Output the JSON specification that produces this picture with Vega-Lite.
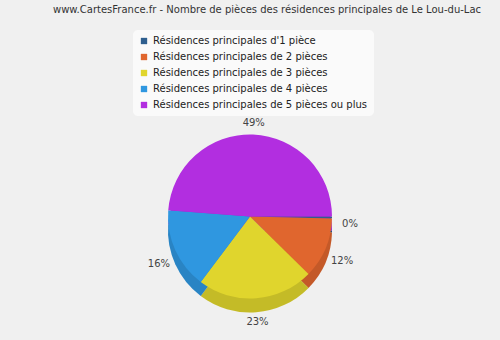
{
  "$schema": "https://vega.github.io/schema/vega-lite/v6.json",
  "width": 500,
  "height": 340,
  "autosize": {"type": "fit", "contains": "padding"},
  "padding": {"top": 5, "left": 0, "right": 0, "bottom": 0},
  "background": "#f0f0f0",
  "title": {
    "text": "www.CartesFrance.fr - Nombre de pièces des résidences principales de Le Lou-du-Lac",
    "font": "DejaVu Sans",
    "fontSize": 10,
    "fontWeight": "normal",
    "color": "#333333",
    "anchor": "middle",
    "dx": 17,
    "offset": 78
  },
  "data": {
    "values": [
      {"categorie": "Résidences principales d'1 pièce", "valeur": 0.4, "label": "0%"},
      {"categorie": "Résidences principales de 2 pièces", "valeur": 12, "label": "12%"},
      {"categorie": "Résidences principales de 3 pièces", "valeur": 23, "label": "23%"},
      {"categorie": "Résidences principales de 4 pièces", "valeur": 16, "label": "16%"},
      {"categorie": "Résidences principales de 5 pièces ou plus", "valeur": 49, "label": "49%"}
    ]
  },
  "encoding": {
    "theta": {"field": "valeur", "type": "quantitative", "stack": true,
      "scale": {"range": [1.5708, 7.854]}},
    "order": {"field": "categorie", "sort": "ascending"}
  },
  "layer": [
    {
      "mark": {"type": "arc", "outerRadius": 82, "yOffset": 14},
      "encoding": {
        "color": {"field": "categorie", "type": "nominal",
          "scale": {"domain": ["Résidences principales d'1 pièce", "Résidences principales de 2 pièces", "Résidences principales de 3 pièces", "Résidences principales de 4 pièces", "Résidences principales de 5 pièces ou plus"],
            "range": ["#2f5f8f", "#e0662e", "#e0d52d", "#2f97e0", "#b22ee0"]},
          "legend": {
            "title": null,
            "orient": "none",
            "legendX": 133,
            "legendY": -63,
            "symbolType": "square",
            "symbolSize": 40,
            "labelFont": "DejaVu Sans",
            "labelFontSize": 10,
            "labelColor": "#222222",
            "fillColor": "#fafafa",
            "cornerRadius": 5,
            "padding": 6,
            "rowPadding": 6,
            "labelLimit": 300
          }
        }
      }
    },
    {
      "mark": {"type": "arc", "outerRadius": 82, "yOffset": 14, "color": "#000000", "opacity": 0.12},
      "encoding": {}
    },
    {
      "mark": {"type": "arc", "outerRadius": 82},
      "encoding": {
        "color": {"field": "categorie", "type": "nominal"}
      }
    },
    {
      "mark": {"type": "text", "radius": 100, "yOffset": 6, "font": "DejaVu Sans", "fontSize": 10, "color": "#444444"},
      "encoding": {
        "text": {"field": "label", "type": "nominal"}
      }
    }
  ]
}
